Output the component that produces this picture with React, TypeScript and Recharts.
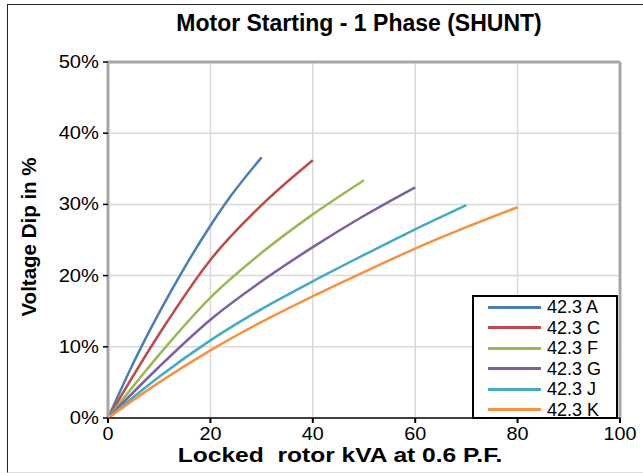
import React from 'react';
import { LineChart, Line, XAxis, YAxis, CartesianGrid, ReferenceLine } from 'recharts';

const kvaA = [0, 5, 10, 15, 20, 24, 30];
const dipA = [0, 7.8, 14.8, 21.2, 27.0, 31.2, 36.6];
const kvaC = [0, 10, 20, 30, 40];
const dipC = [0, 11.8, 22.2, 29.9, 36.2];
const kvaF = [0, 10, 20, 30, 40, 50];
const dipF = [0, 8.9, 16.9, 23.2, 28.6, 33.4];
const kvaG = [0, 10, 20, 30, 40, 50, 60];
const dipG = [0, 7.2, 13.8, 19.2, 24.0, 28.4, 32.4];
const kvaJ = [0, 10, 20, 30, 40, 50, 60, 70];
const dipJ = [0, 5.8, 10.9, 15.3, 19.2, 22.9, 26.5, 29.9];
const kvaK = [0, 10, 20, 30, 40, 50, 60, 70, 80];
const dipK = [0, 5.0, 9.5, 13.5, 17.1, 20.5, 23.8, 26.8, 29.6];

const seriesNames = ['42.3 A', '42.3 C', '42.3 F', '42.3 G', '42.3 J', '42.3 K'];
const colors = ['#4A7EBB', '#BE4B48', '#98B954', '#7D60A0', '#46AAC5', '#F69240'];
const xTicks = [0, 20, 40, 60, 80, 100];
const yTicks = [0, 10, 20, 30, 40, 50];

const toRows = (xs: number[], ys: number[]) => xs.map((x, i) => ({ x, y: ys[i] }));

const series = [
  toRows(kvaA, dipA),
  toRows(kvaC, dipC),
  toRows(kvaF, dipF),
  toRows(kvaG, dipG),
  toRows(kvaJ, dipJ),
  toRows(kvaK, dipK),
];

const font = 'Liberation Sans, Arial, sans-serif';

const XTick = (props: any) => {
  const { x, y, payload } = props;
  return (
    <g transform={`translate(${x},${y + 15})`}>
      <text transform="scale(1.1,1)" textAnchor="middle" fontSize={18} fontFamily={font} fill="#000">
        {payload.value}
      </text>
    </g>
  );
};

const YTick = (props: any) => {
  const { x, y, payload } = props;
  return (
    <g transform={`translate(${x - 2},${y + 6})`}>
      <text transform="scale(1.12,1)" textAnchor="end" fontSize={18} fontFamily={font} fill="#000">
        {`${payload.value}%`}
      </text>
    </g>
  );
};

export default function App() {
  return (
    <div style={{ position: 'absolute', left: 0, top: 0, width: 643, height: 473, background: '#fff', fontFamily: font, overflow: 'hidden' }}>
      <div style={{ position: 'absolute', left: 7, top: 4, width: 640, height: 467, borderLeft: '1.5px solid #222', borderTop: '1.5px solid #222', borderBottom: '1px solid #ddd' }} />
      <div style={{ position: 'absolute', left: 0, width: 718, top: 10, textAlign: 'center', fontWeight: 'bold', fontSize: 23 }}>
        Motor Starting - 1 Phase (SHUNT)
      </div>
      <div style={{ position: 'absolute', left: 0, width: 680, top: 443, textAlign: 'center', fontWeight: 'bold', fontSize: 21, whiteSpace: 'pre', transform: 'scaleX(1.17)', transformOrigin: '340px 0' }}>
        {'Locked  rotor kVA at 0.6 P.F.'}
      </div>
      <div style={{ position: 'absolute', left: 30, top: 237, width: 0, height: 0 }}>
        <div style={{ position: 'absolute', left: -150, top: -13, width: 300, textAlign: 'center', fontWeight: 'bold', fontSize: 20.5, transform: 'rotate(-90deg)', transformOrigin: '150px 13px', whiteSpace: 'nowrap' }}>
          Voltage Dip in %
        </div>
      </div>
      <div style={{ position: 'absolute', left: 0, top: 0 }}>
        <LineChart width={643} height={473} margin={{ top: 62, right: 23, bottom: 25, left: 0 }}>
          <CartesianGrid stroke="#d9d9d9" strokeWidth={1.5} />
          <XAxis
            type="number"
            dataKey="x"
            domain={[0, 100]}
            ticks={xTicks}
            height={30}
            allowDuplicatedCategory={false}
            stroke="#404040"
            strokeWidth={2}
            tickSize={5}
            tick={<XTick />}
            tickLine={{ stroke: '#000' }}
          />
          <YAxis
            type="number"
            dataKey="y"
            domain={[0, 50]}
            ticks={yTicks}
            width={108}
            stroke="#a6a6a6"
            strokeWidth={3}
            tickSize={5}
            tick={<YTick />}
            tickLine={{ stroke: '#000', strokeWidth: 1.5 }}
          />
          <ReferenceLine y={50} stroke="#a6a6a6" strokeWidth={3} />
          <ReferenceLine x={100} stroke="#a6a6a6" strokeWidth={3} />
          {series.map((rows, i) => (
            <Line
              key={seriesNames[i]}
              data={rows}
              dataKey="y"
              name={seriesNames[i]}
              type="monotone"
              stroke={colors[i]}
              strokeWidth={2.5}
              dot={false}
              isAnimationActive={false}
            />
          ))}
        </LineChart>
      </div>
      <div style={{ position: 'absolute', left: 472, top: 295, width: 146, height: 124, border: '2px solid #000', background: '#fff', boxSizing: 'border-box', fontSize: 18, color: '#000' }}>
        {seriesNames.map((name, i) => (
          <div key={name} style={{ display: 'flex', alignItems: 'center', height: 20.5 }}>
            <div style={{ width: 53, height: 3, background: colors[i], marginLeft: 14, marginRight: 6 }} />
            <span style={{ lineHeight: '20px' }}>{name}</span>
          </div>
        ))}
      </div>
    </div>
  );
}
